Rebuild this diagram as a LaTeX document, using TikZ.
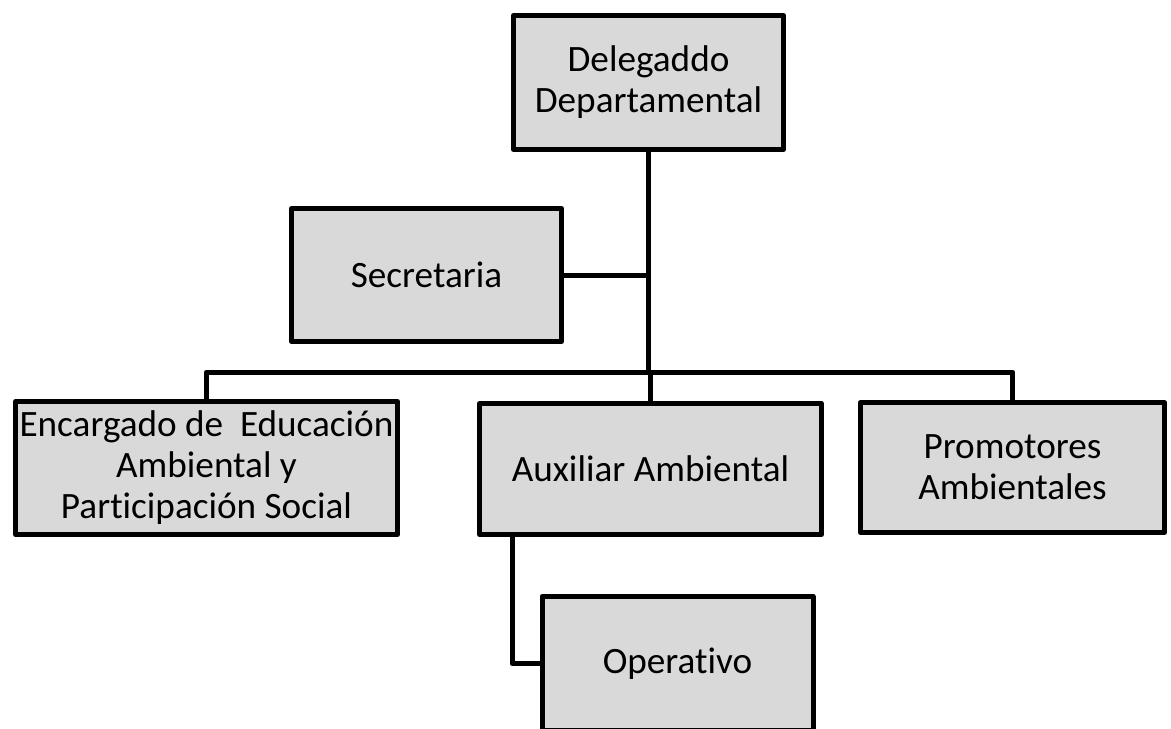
\documentclass[tikz,border=0pt]{standalone}
\usepackage{fontspec}
\setmainfont{Carlito}[RawFeature={-liga;-clig}]
\definecolor{boxgray}{HTML}{D9D9D9}

\begin{document}
\begin{tikzpicture}[x=0.5pt, y=-0.5pt, line width=2.5pt, line join=round,
      every node/.append style={font=\fontsize{18.6}{20.5}\selectfont, align=center}]
    \tikzstyle{unit} = [draw, fill=boxgray, inner sep=0pt]
    \useasboundingbox (0,0) rectangle (1171,728);
    \node (dele) [unit, minimum width=135pt, minimum height=67pt] at (648.5,82.5) {Delegaddo\\Departamental};
    \node (secr) [unit, minimum width=135pt, minimum height=66.5pt] at (426.5,275) {Secretaria};
    \node (enc) [unit, minimum width=191pt, minimum height=66.5pt] at (206.5,468) {Encargado de~ Educación\\Ambiental y\\Participación Social};
    \node (aux) [unit, minimum width=171pt, minimum height=65.5pt] at (650.5,469) {Auxiliar Ambiental};
    \node (prom) [unit, minimum width=152pt, minimum height=65pt] at (1012.5,467.5) {Promotores\\Ambientales};
    \node (oper) [unit, minimum width=135.5pt, minimum height=67pt] at (677.5,663.5) {Operativo};
    \coordinate (hub) at (649,372);
    \coordinate (drop) at (512,662);
    \draw (dele.south) -- (dele.south |- hub);
    \draw (secr.east) -- (secr.east -| dele.south);
    \draw (enc.north) |- (hub) -| (prom.north);
    \draw (aux.north) -- (aux.north |- hub);
    \draw (aux.south -| drop) |- (oper.west);
\end{tikzpicture}
\end{document}
